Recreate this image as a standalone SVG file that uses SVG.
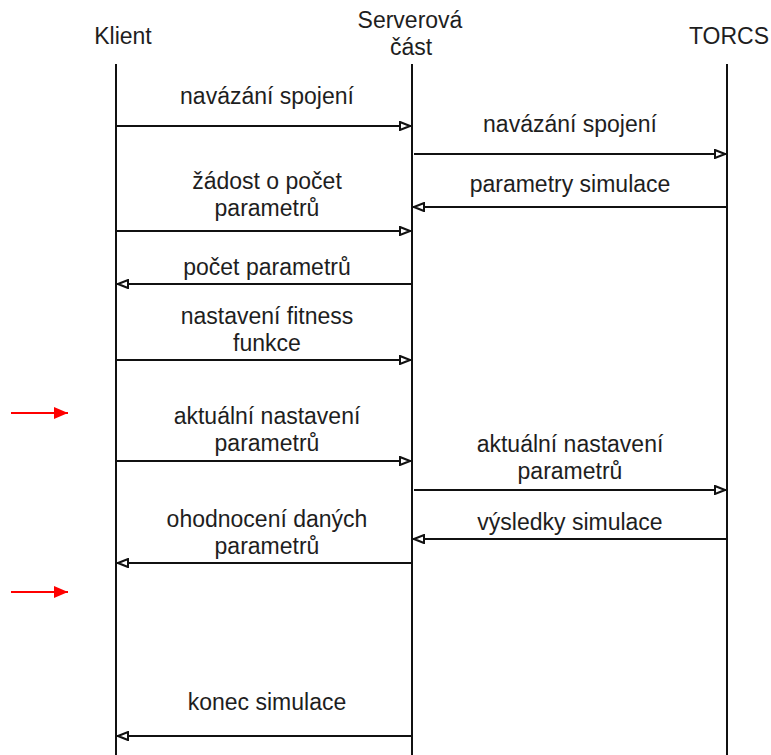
<svg xmlns="http://www.w3.org/2000/svg" width="771" height="755" viewBox="0 0 771 755">
<style>
text{font-family:"Liberation Sans",Arial,sans-serif;font-size:23px;fill:#1e1e1e;text-anchor:middle}
.life{stroke:#111;stroke-width:2;fill:none}
.msg{stroke:#111;stroke-width:2;fill:none}
.red{stroke:#ff0000;stroke-width:2;fill:none}
</style>
<defs>
<marker id="ah" viewBox="0 0 12 10" refX="12" refY="5" markerWidth="12" markerHeight="10" markerUnits="userSpaceOnUse" orient="auto">
<path d="M1,1 L11,5 L1,9 Z" fill="#fff" stroke="#111" stroke-width="2" stroke-linejoin="miter"/>
</marker>
<marker id="rh" viewBox="0 0 14 12" refX="14" refY="6" markerWidth="14" markerHeight="12" markerUnits="userSpaceOnUse" orient="auto">
<path d="M0,0 L14,6 L0,12 Z" fill="#ff0000"/>
</marker>
</defs>
<rect width="771" height="755" fill="#fff"/>
<g id="klient">
<text x="123" y="44">Klient</text>
<line class="life" x1="116" y1="64" x2="116" y2="755"/>
</g>
<g id="server">
<text x="410" y="28">Serverová</text>
<text x="411" y="55">část</text>
<line class="life" x1="412" y1="64" x2="412" y2="755"/>
</g>
<g id="torcs">
<text x="729" y="44">TORCS</text>
<line class="life" x1="727" y1="64" x2="727" y2="755"/>
</g>
<g id="connectors">
<line class="msg" x1="117" y1="126" x2="411" y2="126" marker-end="url(#ah)"/>
<line class="msg" x1="414" y1="154" x2="726" y2="154" marker-end="url(#ah)"/>
<line class="msg" x1="728" y1="207" x2="413" y2="207" marker-end="url(#ah)"/>
<line class="msg" x1="117" y1="231" x2="411" y2="231" marker-end="url(#ah)"/>
<line class="msg" x1="412" y1="284" x2="117" y2="284" marker-end="url(#ah)"/>
<line class="msg" x1="117" y1="360" x2="411" y2="360" marker-end="url(#ah)"/>
<line class="msg" x1="117" y1="461" x2="411" y2="461" marker-end="url(#ah)"/>
<line class="msg" x1="414" y1="490" x2="726" y2="490" marker-end="url(#ah)"/>
<line class="msg" x1="728" y1="539" x2="413" y2="539" marker-end="url(#ah)"/>
<line class="msg" x1="412" y1="563" x2="117" y2="563" marker-end="url(#ah)"/>
<line class="msg" x1="412" y1="736" x2="117" y2="736" marker-end="url(#ah)"/>
</g>
<g id="labels">
<text x="267" y="104">navázání spojení</text>
<text x="570" y="132">navázání spojení</text>
<text x="570" y="192">parametry simulace</text>
<text x="267" y="189">žádost o počet</text>
<text x="267" y="216">parametrů</text>
<text x="267" y="275">počet parametrů</text>
<text x="267" y="324">nastavení fitness</text>
<text x="267" y="351">funkce</text>
<text x="267" y="424">aktuální nastavení</text>
<text x="267" y="451">parametrů</text>
<text x="570" y="452">aktuální nastavení</text>
<text x="570" y="479">parametrů</text>
<text x="570" y="530">výsledky simulace</text>
<text x="267" y="527">ohodnocení daných</text>
<text x="267" y="554">parametrů</text>
<text x="267" y="710">konec simulace</text>
</g>
<g id="red-arrows">
<line class="red" x1="11" y1="413" x2="68" y2="413" marker-end="url(#rh)"/>
<line class="red" x1="11" y1="592" x2="68" y2="592" marker-end="url(#rh)"/>
</g>
</svg>
